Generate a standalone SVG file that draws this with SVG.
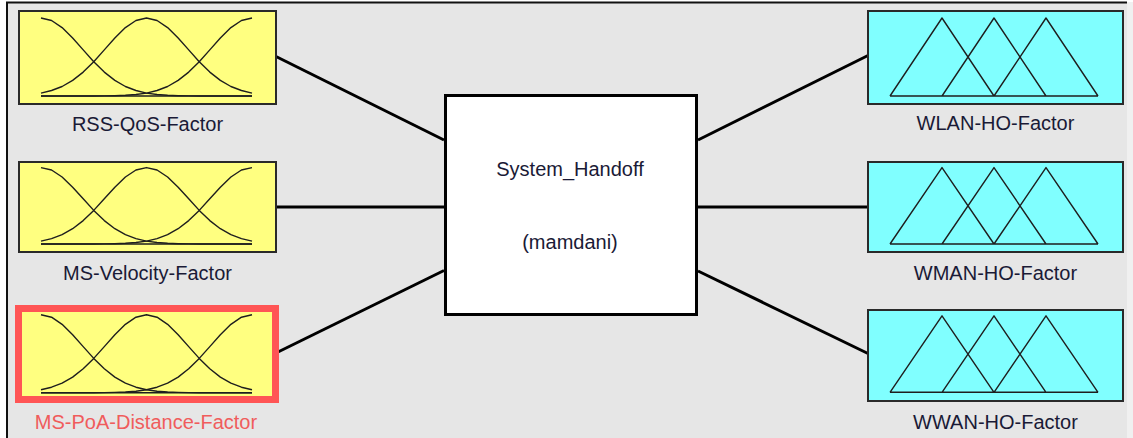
<svg xmlns="http://www.w3.org/2000/svg" width="1133" height="438" viewBox="0 0 1133 438">
  <style>
    .in { fill: #ffff80; stroke: #2a2a2a; stroke-width: 2; }
    .out { fill: #80ffff; stroke: #2a2a2a; stroke-width: 2; }
    .in.sel { stroke: #ff5555; stroke-width: 7; }
    .mf { fill: none; stroke: #1e1e1e; stroke-width: 1.4; stroke-linejoin: round; vector-effect: non-scaling-stroke; }
    .wire { stroke: #000; stroke-width: 3; fill: none; }
    .lbl { font-family: "Liberation Sans", Arial, sans-serif; font-size: 20px; fill: #1a1a36; text-anchor: middle; }
    .lbl.sel { fill: #f05c5c; }
  </style>
  <defs>
    <!-- gaussian membership functions: z-shape, bell, s-shape -->
    <g id="gauss">
      <path class="mf" d="M0,-78 L10.55,-75.5 L21.1,-68.4 L31.65,-58 L42.2,-46.1 L52.75,-34.3 L63.3,-23.9 L73.85,-15.6 L84.4,-9.5 L94.95,-5.5 L105.5,-2.9 L116.05,-1.5 L126.6,-0.7 L137.15,-0.3 L147.7,-0.1 L158.25,0 L211,0"/>
      <path class="mf" d="M0,-2.9 L10.55,-5.5 L21.1,-9.5 L31.65,-15.6 L42.2,-23.9 L52.75,-34.3 L63.3,-46.1 L73.85,-58 L84.4,-68.4 L94.95,-75.5 L105.5,-78 L116.05,-75.5 L126.6,-68.4 L137.15,-58 L147.7,-46.1 L158.25,-34.3 L168.8,-23.9 L179.35,-15.6 L189.9,-9.5 L200.45,-5.5 L211,-2.9"/>
      <path class="mf" d="M0,0 L52.75,0 L63.3,-0.1 L73.85,-0.3 L84.4,-0.7 L94.95,-1.5 L105.5,-2.9 L116.05,-5.5 L126.6,-9.5 L137.15,-15.6 L147.7,-23.9 L158.25,-34.3 L168.8,-46.1 L179.35,-58 L189.9,-68.4 L200.45,-75.5 L211,-78"/>
      <path class="mf" d="M0,0 L211,0"/>
    </g>
    <!-- triangular membership functions -->
    <g id="tri">
      <path class="mf" d="M0,0 L52,-78 L104,0 M52,0 L104,-78 L156,0 M104,0 L156,-78 L208,0 M0,0 L208,0"/>
    </g>
  </defs>

  <!-- panel -->
  <rect x="0" y="0" width="1133" height="438" fill="#ffffff"/>
  <rect x="7" y="2" width="1120" height="436" fill="#e6e6e6"/>
  <rect x="1127" y="2" width="6" height="436" fill="#f0f0f0"/>
  <path d="M7,438 V2.5 H1127" fill="none" stroke="#111" stroke-width="2"/>

  <g id="connectors">
    <line class="wire" x1="276" y1="56.5" x2="444" y2="140"/>
    <line class="wire" x1="276" y1="207" x2="444" y2="207"/>
    <line class="wire" x1="278" y1="352" x2="444" y2="270.5"/>
    <line class="wire" x1="698" y1="140" x2="869" y2="55"/>
    <line class="wire" x1="698" y1="207" x2="869" y2="207"/>
    <line class="wire" x1="698" y1="271" x2="869" y2="354"/>
  </g>

  <g id="in-rss-qos">
    <rect class="in" x="19" y="11" width="257" height="93"/>
    <use href="#gauss" transform="translate(41,96)"/>
    <text class="lbl" x="147.5" y="131">RSS-QoS-Factor</text>
  </g>

  <g id="in-ms-velocity">
    <rect class="in" x="19" y="162" width="257" height="90"/>
    <use href="#gauss" transform="translate(41,244) scale(1,0.98)"/>
    <text class="lbl" x="147.5" y="280">MS-Velocity-Factor</text>
  </g>

  <g id="in-ms-poa-distance">
    <rect class="in sel" x="18.5" y="308.5" width="257" height="91"/>
    <use href="#gauss" transform="translate(41,392.7)"/>
    <text class="lbl sel" x="146" y="429">MS-PoA-Distance-Factor</text>
  </g>

  <g id="system">
    <rect x="445.5" y="95.5" width="251" height="219" fill="#ffffff" stroke="#000" stroke-width="3"/>
    <text class="lbl" x="570" y="176">System_Handoff</text>
    <text class="lbl" x="570" y="249">(mamdani)</text>
  </g>

  <g id="out-wlan">
    <rect class="out" x="868" y="11" width="255" height="93"/>
    <use href="#tri" transform="translate(890,96)"/>
    <text class="lbl" x="995.5" y="130">WLAN-HO-Factor</text>
  </g>

  <g id="out-wman">
    <rect class="out" x="868" y="162" width="255" height="90"/>
    <use href="#tri" transform="translate(890,244) scale(1,0.98)"/>
    <text class="lbl" x="995.5" y="280">WMAN-HO-Factor</text>
  </g>

  <g id="out-wwan">
    <rect class="out" x="868" y="310" width="255" height="91"/>
    <use href="#tri" transform="translate(890,392.3) scale(1,0.98)"/>
    <text class="lbl" x="995.5" y="428.5">WWAN-HO-Factor</text>
  </g>
</svg>
